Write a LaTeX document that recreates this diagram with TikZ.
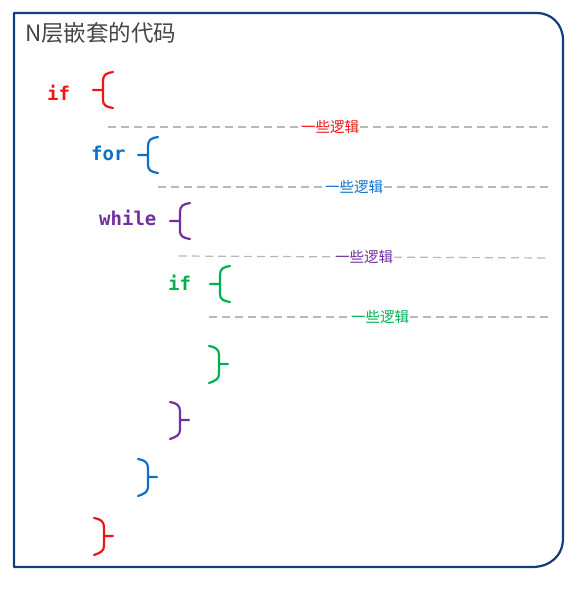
\documentclass[tikz,border=0pt]{standalone}
\usepackage{fontspec}
\usepackage{tikz}
\usepackage{xcolor}
\newfontfamily\cjkfont{Noto Sans CJK SC}
\newfontfamily\codefont{DejaVu Sans Mono}
\definecolor{vizRed}{HTML}{F01414}
\definecolor{vizBlue}{HTML}{0F6FC6}
\definecolor{vizPurple}{HTML}{7030A0}
\definecolor{vizGreen}{HTML}{00B050}
\definecolor{vizFrame}{HTML}{123C7C}
\definecolor{vizDash}{HTML}{B8B8B8}
\definecolor{vizTitle}{HTML}{454545}
\tikzset{
  keyword/.style={anchor=base west, inner sep=0pt, font=\codefont\bfseries\fontsize{19}{19}\selectfont},
  logic/.style={inner sep=1pt, fill=white, font=\cjkfont\fontsize{14.5}{15}\selectfont},
  logicline/.style={draw=vizDash, line width=1.2pt, dash pattern=on 8pt off 5pt},
  bracepen/.style={line width=2.2pt, line cap=round, line join=round},
  openbrace/.pic={
    \draw[bracepen] (0,0) -- (10,0)
      (20,-18) .. controls (13,-17) and (10,-15) .. (10,-9) -- (10,10)
      .. controls (10,15) and (13,17) .. (20,18);
  },
  closebrace/.pic={
    \draw[bracepen] (0,0) -- (-9,0)
      (-19,-18) .. controls (-13,-17) and (-9,-15) .. (-9,-9) -- (-9,10)
      .. controls (-9,15) and (-13,17) .. (-19,19);
  }
}

\begin{document}
\begin{tikzpicture}[x=1pt, y=-1pt]
  \useasboundingbox (0,0) rectangle (583,594);
  \draw[vizFrame, line width=2.2pt, line join=round] (14,567) -- (14,13) -- (537,13)
    .. controls (551,13) and (563,24) .. (563,40) -- (563,538)
    .. controls (563,556) and (550,567) .. (532,567) -- cycle;
  \node[anchor=base west, inner sep=0pt, text=vizTitle, font=\cjkfont\fontsize{22.5}{23}\selectfont]
    (title) at (25,42) {N层嵌套的代码};

  \node[keyword, text=vizRed] (ifOuter) at (47,100) {if};
  \node[keyword, text=vizBlue] (forLoop) at (91,160) {for};
  \node[keyword, text=vizPurple] (whileLoop) at (99,225) {while};
  \node[keyword, text=vizGreen] (ifInner) at (168,290) {if};

  \pic[vizRed] (ifOpen) at (93,90) {openbrace};
  \pic[vizBlue] (forOpen) at (138,155) {openbrace};
  \pic[vizPurple] (whileOpen) at (170,221) {openbrace};
  \pic[vizGreen] (ifInnerOpen) at (210,284) {openbrace};
  \pic[vizGreen] (ifInnerClose) at (228,364) {closebrace};
  \pic[vizPurple] (whileClose) at (189,420) {closebrace};
  \pic[vizBlue] (forClose) at (157,477) {closebrace};
  \pic[vizRed] (ifClose) at (113,536) {closebrace};

  \coordinate (logicRedA) at (108,127);
  \coordinate (logicRedB) at (548,127);
  \node[logic, text=vizRed] (logicRed) at (330,127) {一些逻辑};
  \draw[logicline] (logicRedA) -- (logicRed) -- (logicRedB);

  \coordinate (logicBlueA) at (158,187);
  \coordinate (logicBlueB) at (549,187);
  \node[logic, text=vizBlue] (logicBlue) at (354,187) {一些逻辑};
  \draw[logicline] (logicBlueA) -- (logicBlue) -- (logicBlueB);

  \coordinate (logicPurpleA) at (179,256);
  \coordinate (logicPurpleB) at (547,258);
  \node[logic, text=vizPurple] (logicPurple) at (364,257) {一些逻辑};
  \draw[logicline] (logicPurpleA) -- (logicPurple) -- (logicPurpleB);

  \coordinate (logicGreenA) at (209,317);
  \coordinate (logicGreenB) at (551,317);
  \node[logic, text=vizGreen] (logicGreen) at (380,317) {一些逻辑};
  \draw[logicline] (logicGreenA) -- (logicGreen) -- (logicGreenB);
\end{tikzpicture}
\end{document}
